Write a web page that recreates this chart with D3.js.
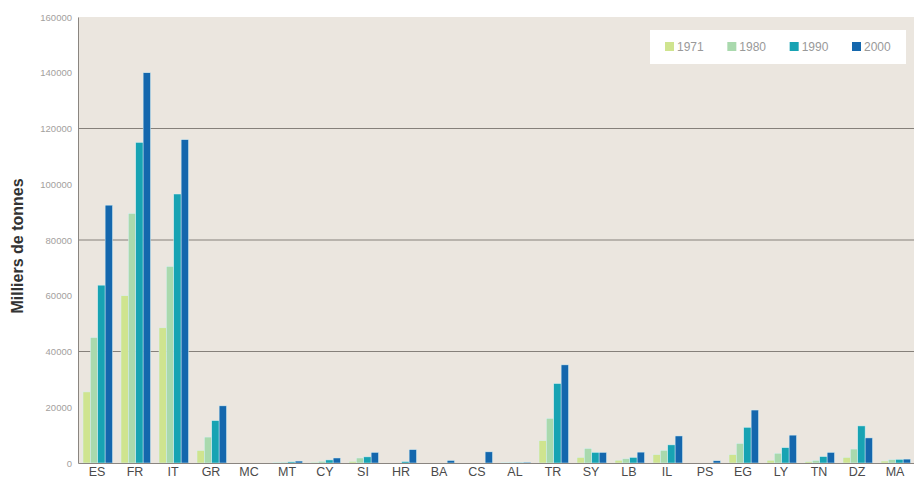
<!DOCTYPE html>
<html><head><meta charset="utf-8">
<script src="https://cdn.jsdelivr.net/npm/d3@7"></script>
<style>body{margin:0;background:#fff;}svg{display:block;}</style>
</head><body>
<svg id="chart" width="914" height="480"></svg>
<script>
const categories = ["ES","FR","IT","GR","MC","MT","CY","SI","HR","BA","CS","AL","TR","SY","LB","IL","PS","EG","LY","TN","DZ","MA"];
const years = ["1971","1980","1990","2000"];
const v1971 = [25500,60000,48500,4500,0,200,300,600,0,0,0,100,8000,2000,1000,3000,0,3000,1000,500,2000,700];
const v1980 = [45000,89500,70500,9300,0,300,600,1800,0,0,0,200,16000,5200,1500,4500,0,7000,3500,900,5000,1200];
const v1990 = [63800,115000,96500,15200,0,400,1100,2200,500,0,0,200,28500,3800,2000,6500,0,12800,5500,2300,13300,1300];
const v2000 = [92500,140000,116000,20500,0,700,1800,3800,4800,900,4000,300,35200,3800,3900,9700,800,19000,10000,3800,9000,1400];
const yTicks = [0,20000,40000,60000,80000,100000,120000,140000,160000];
const gridTicks = [40000,80000,120000];
const colors = ["#cfe48f","#a9d9ad","#17a3b3","#1467ad"];

(function(){
const series = [v1971,v1980,v1990,v2000];
const svg = d3.select("#chart");
const mLeft = 78, mRight = 914, mTop = 17, mBottom = 463;

const x = d3.scaleBand().domain(categories).range([mLeft, mRight]).paddingInner(0).paddingOuter(0);
const x1 = d3.scaleBand().domain(years).range([5, 34.5]).padding(0);
const y = d3.scaleLinear().domain([0,160000]).range([mBottom, mTop]);

svg.append("rect").attr("x",mLeft).attr("y",mTop).attr("width",mRight-mLeft).attr("height",mBottom-mTop).attr("fill","#ebe6df");

svg.append("g").selectAll("line").data(gridTicks).join("line")
  .attr("x1",mLeft).attr("x2",mRight).attr("y1",d=>y(d)).attr("y2",d=>y(d))
  .attr("stroke","#85807a").attr("stroke-width",1);

const g = svg.append("g");
categories.forEach((c,i)=>{
  series.forEach((s,k)=>{
    const val = s[i];
    if (val<=0) return;
    g.append("rect")
      .attr("x", x(c)+x1(years[k]))
      .attr("y", y(val))
      .attr("width", x1.bandwidth())
      .attr("height", Math.max(0, y(0)-y(val)))
      .attr("fill", colors[k])
      .attr("stroke","#d8f0f4").attr("stroke-width",0.5);
  });
});

const yAxis = svg.append("g").attr("transform",`translate(${mLeft},0)`)
  .call(d3.axisLeft(y).tickValues(yTicks).tickFormat(d=>d).tickSize(0).tickPadding(6));
yAxis.select(".domain").attr("stroke","#8a8580");
yAxis.selectAll("text").attr("fill","#a3a09d").attr("font-family","Liberation Sans, Arial, sans-serif").attr("font-size",9.5);

const xAxis = svg.append("g").attr("transform",`translate(0,${mBottom})`)
  .call(d3.axisBottom(x).tickSize(0).tickPadding(4));
xAxis.select(".domain").attr("stroke","#8a8580");
xAxis.selectAll("text").attr("fill","#4a4a4a").attr("font-family","Liberation Sans, Arial, sans-serif").attr("font-size",12.5);

svg.append("text").attr("transform",`translate(23,246) rotate(-90)`)
  .attr("text-anchor","middle").attr("font-family","Liberation Sans, Arial, sans-serif")
  .attr("font-size",16).attr("font-weight","bold").attr("fill","#333").text("Milliers de tonnes");

const lg = svg.append("g");
lg.append("rect").attr("x",650).attr("y",30).attr("width",256).attr("height",34).attr("fill","#ffffff");
const lx = d3.scalePoint().domain(years).range([665,852]);
years.forEach((yr,k)=>{
  lg.append("rect").attr("x",lx(yr)).attr("y",42).attr("width",9).attr("height",9).attr("fill",colors[k]);
  lg.append("text").attr("x",lx(yr)+12).attr("y",51).attr("font-family","Liberation Sans, Arial, sans-serif")
    .attr("font-size",12).attr("fill","#999").text(yr);
});
})();
</script>
</body></html>
